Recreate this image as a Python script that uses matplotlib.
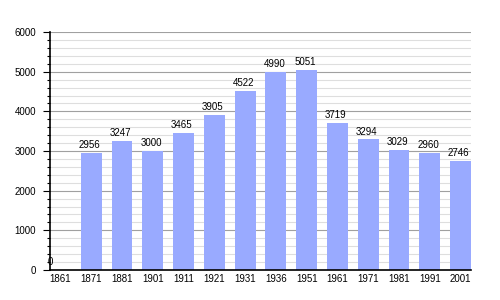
import matplotlib
matplotlib.use("Agg")
import matplotlib.pyplot as plt
from matplotlib.ticker import MultipleLocator

years = ["1861", "1871", "1881", "1901", "1911", "1921", "1931", "1936",
         "1951", "1961", "1971", "1981", "1991", "2001"]
population = [0, 2956, 3247, 3000, 3465, 3905, 4522, 4990,
              5051, 3719, 3294, 3029, 2960, 2746]

plt.rcParams['font.family'] = ['Liberation Sans', 'DejaVu Sans']

fig = plt.figure(figsize=(5, 3), dpi=100)
ax = fig.add_axes([0.1, 0.1, 0.842, 0.793])

x = list(range(len(years)))
bw = 0.68
ax.bar(x, population, width=bw, color='#99aaff', zorder=3)

for xi, v in zip(x, population):
    ax.annotate(str(v), (xi - bw / 2, v), xytext=(-1.5, 2), textcoords='offset points',
                ha='left', va='bottom', fontsize=7, zorder=4)

ax.set_xlim(-bw / 2, len(years) - 1 + bw / 2)
ax.set_ylim(0, 6000)
ax.set_xticks(x)
ax.set_xticklabels(years, fontsize=7)
ax.tick_params(axis='x', length=0, pad=3)
ax.yaxis.set_major_locator(MultipleLocator(1000))
ax.yaxis.set_minor_locator(MultipleLocator(200))
ax.tick_params(axis='y', which='major', length=5, width=0.8, labelsize=7, pad=5)
ax.tick_params(axis='y', which='minor', length=2.5, width=0.8)
ax.grid(axis='y', which='major', color='#a0a0a0', linewidth=0.8, zorder=0)
ax.grid(axis='y', which='minor', color='#dedede', linewidth=0.8, zorder=0)
for s in ['top', 'right']:
    ax.spines[s].set_visible(False)
ax.spines['left'].set_linewidth(1.2)
ax.spines['bottom'].set_linewidth(1.2)
ax.spines['left'].set_zorder(5)
ax.spines['bottom'].set_zorder(5)

fig.savefig("out.png", dpi=100)
